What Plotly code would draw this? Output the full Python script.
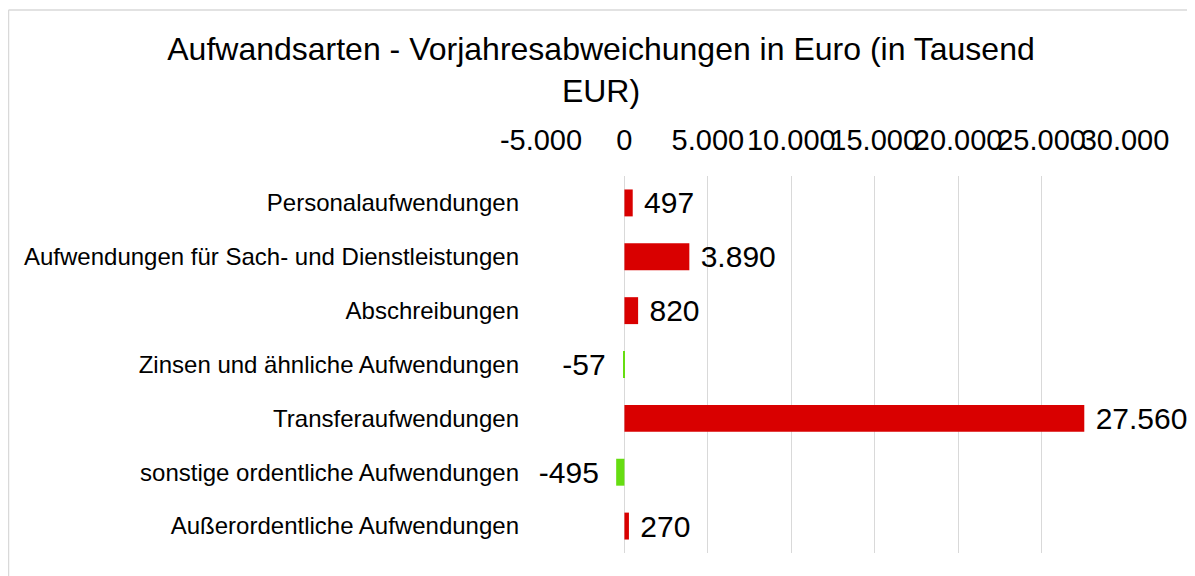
import plotly.graph_objects as go

categories = [
    "Personalaufwendungen",
    "Aufwendungen für Sach- und Dienstleistungen",
    "Abschreibungen",
    "Zinsen und ähnliche Aufwendungen",
    "Transferaufwendungen",
    "sonstige ordentliche Aufwendungen",
    "Außerordentliche Aufwendungen",
]
values = [497, 3890, 820, -57, 27560, -495, 270]
tick_vals = [-5000, 0, 5000, 10000, 15000, 20000, 25000, 30000]
tick_text = ["-5.000", "0", "5.000", "10.000", "15.000", "20.000", "25.000", "30.000"]

RED = "#d90000"
GREEN = "#66dd11"
FONT = "Liberation Sans, Arial, sans-serif"


def fmt(v):
    s = f"{abs(v):,}".replace(",", ".")
    return ("-" if v < 0 else "") + s


colors = [RED if v >= 0 else GREEN for v in values]
texts = [(" " + fmt(v)) if v >= 0 else (fmt(v) + "\u2009 ") for v in values]

fig = go.Figure(
    go.Bar(
        x=values,
        y=categories,
        orientation="h",
        marker=dict(color=colors, line=dict(width=0)),
        text=texts,
        textposition="outside",
        constraintext="none",
        textfont=dict(family=FONT, size=30, color="#000"),
        cliponaxis=False,
        hoverinfo="x+y",
    )
)

# page has an 8px body margin; figure is sized/offset to compensate
OFF = 8
W, H = 1195 - OFF, 576 - OFF
L, R, T, B = 541 - OFF, 70, 176 - OFF, 23
pw, ph = W - L - R, H - T - B

fig.update_layout(
    width=W,
    height=H,
    margin=dict(l=L, r=R, t=T, b=B),
    paper_bgcolor="white",
    plot_bgcolor="white",
    showlegend=False,
    bargap=0.5,
    uniformtext=dict(mode=False),
    font=dict(family=FONT, color="#000"),
    title=dict(
        text="Aufwandsarten - Vorjahresabweichungen in Euro (in Tausend<br>EUR)",
        x=(601 - OFF) / W,
        xanchor="center",
        y=1 - (60 - OFF) / H,
        yanchor="middle",
        font=dict(size=32, color="#000"),
    ),
    xaxis=dict(
        side="top",
        range=[-5000, 30000],
        tickmode="array",
        tickvals=tick_vals,
        ticktext=tick_text,
        tickangle=0,
        tickfont=dict(size=29, color="#000"),
        showgrid=True,
        gridcolor="#d9d9d9",
        gridwidth=1,
        zeroline=True,
        zerolinecolor="#d9d9d9",
        zerolinewidth=1,
        showline=False,
        ticks="",
        ticklabelstandoff=19,
        fixedrange=True,
    ),
    yaxis=dict(
        autorange="reversed",
        tickfont=dict(size=24, color="#000"),
        showgrid=False,
        showline=False,
        ticks="",
        ticklabelstandoff=21,
        fixedrange=True,
    ),
    shapes=[
        dict(type="line", xref="paper", yref="paper",
             x0=(0.5 - L) / pw, x1=(W + 5 - L) / pw,
             y0=(H - B - 2) / ph, y1=(H - B - 2) / ph,
             line=dict(color="#d9d9d9", width=1.5)),
        dict(type="line", xref="paper", yref="paper",
             x0=(0.5 - L) / pw, x1=(0.5 - L) / pw,
             y0=(H - B - 2) / ph, y1=-(B + 10) / ph,
             line=dict(color="#d9d9d9", width=1.5)),
    ],
)

fig.write_html("out.html")
